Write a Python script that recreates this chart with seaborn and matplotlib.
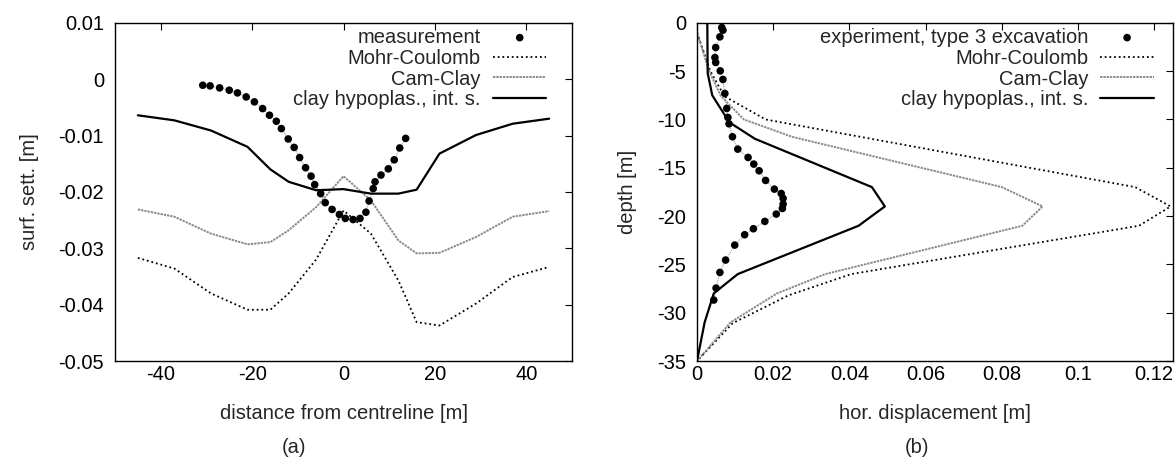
import matplotlib
matplotlib.use("Agg")
import matplotlib.pyplot as plt
import seaborn as sns
import numpy as np

# (a) surface settlement
dist_model = [-45, -37, -29, -21, -16, -12, -6, 0, 6, 12, 16, 21, 29, 37, 45]
sett_mc = [-0.0317, -0.0336, -0.0380, -0.0409, -0.0409, -0.0380, -0.0320, -0.0233,
           -0.0274, -0.0357, -0.0431, -0.0437, -0.0398, -0.0351, -0.0333]
sett_cc = [-0.0231, -0.0244, -0.0274, -0.0293, -0.0289, -0.0268, -0.0227, -0.0172,
           -0.0215, -0.0286, -0.0309, -0.0308, -0.0280, -0.0244, -0.0234]
sett_hypo = [-0.0064, -0.0073, -0.0091, -0.0120, -0.0160, -0.0182, -0.0197, -0.0195,
             -0.0203, -0.0203, -0.0196, -0.0132, -0.0099, -0.0079, -0.0070]
dist_meas = [-30.8, -29.2, -27.1, -25.0, -23.2, -21.3, -19.5, -17.7, -16.2, -14.7,
             -13.6, -12.1, -10.8, -9.6, -8.3, -7.1, -6.3, -5.0, -4.0, -2.5, -0.9,
             0.4, 2.1, 3.6, 4.9, 5.6, 6.5, 6.9, 8.2, 9.8, 11.1, 12.3, 13.6]
sett_meas = [-0.00107, -0.00118, -0.00154, -0.00195, -0.00243, -0.00314, -0.00402,
             -0.00521, -0.00639, -0.00746, -0.00876, -0.0106, -0.0121, -0.0139,
             -0.0157, -0.0172, -0.0187, -0.0203, -0.0219, -0.0231, -0.0240, -0.0247,
             -0.0249, -0.0247, -0.0236, -0.0216, -0.0194, -0.0182, -0.0170, -0.0159,
             -0.0143, -0.0122, -0.0105]

# (b) horizontal displacement vs depth
depth_mc = [-1, -5, -7.6, -10, -17, -19, -21, -26, -28.2, -31.1, -35]
disp_mc = [0, 0.0035, 0.0072, 0.018, 0.115, 0.1243, 0.116, 0.0405, 0.024, 0.0093, 0]
depth_cc = [-1, -5, -7.6, -10, -11.8, -17, -19, -21, -26, -28, -31, -35]
disp_cc = [0, 0.0032, 0.0063, 0.0123, 0.025, 0.080, 0.0907, 0.0854, 0.0337, 0.021, 0.0088, 0]
depth_hypo = [0, -5.2, -7.5, -10.3, -12, -17, -19, -21, -26, -28, -31, -35]
disp_hypo = [0.0027, 0.0028, 0.004, 0.0085, 0.0152, 0.0459, 0.0493, 0.0424, 0.0107, 0.0044, 0.002, 0]
depth_exp = [-0.48, -0.76, -1.45, -2.55, -3.59, -4.10, -4.97, -5.86, -7.31, -8.86,
             -9.79, -10.45, -11.79, -13.07, -13.93, -14.62, -15.31, -16.31, -17.21,
             -17.66, -18.17, -18.76, -19.21, -19.79, -20.55, -21.31, -21.93, -23.0,
             -24.55, -25.83, -27.45, -28.69]
disp_exp = [0.0065, 0.0068, 0.0060, 0.0049, 0.0047, 0.0049, 0.0061, 0.0068, 0.0073,
            0.0078, 0.0081, 0.0084, 0.0093, 0.0107, 0.0134, 0.0149, 0.0163, 0.0180,
            0.0203, 0.0221, 0.0226, 0.0226, 0.0224, 0.0208, 0.0178, 0.0148, 0.0125,
            0.0099, 0.0075, 0.0060, 0.0050, 0.0044]

a_yticks = [0.01, 0, -0.01, -0.02, -0.03, -0.04, -0.05]
a_yticklabels = ["0.01", "0", "-0.01", "-0.02", "-0.03", "-0.04", "-0.05"]
a_xticks = [-40, -20, 0, 20, 40]
b_xticks = [0, 0.02, 0.04, 0.06, 0.08, 0.1, 0.12]
b_xticklabels = ["0", "0.02", "0.04", "0.06", "0.08", "0.1", "0.12"]
b_yticks = [0, -5, -10, -15, -20, -25, -30, -35]

sns.set_style("white")
plt.rcParams['font.family'] = ['Liberation Sans', 'DejaVu Sans']
plt.rcParams['axes.unicode_minus'] = False

fig = plt.figure(figsize=(11.76, 4.57), dpi=100)
ax1 = fig.add_axes([0.0978, 0.210, 0.3886, 0.740])
ax2 = fig.add_axes([0.5927, 0.210, 0.405, 0.740])

mc_style = dict(color="black", linewidth=1.3, linestyle=(0, (1, 1.6)))
cc_style = dict(color="#8a8a8a", linewidth=1.4, linestyle=(0, (1.2, 0.5)))
hypo_style = dict(color="black", linewidth=1.6)
fs = 14.5

# --- (a)
sns.lineplot(x=dist_meas, y=sett_meas, sort=False, estimator=None, ax=ax1,
             color="#999999", linewidth=0.8, linestyle=(0, (1, 1)))
sns.scatterplot(x=dist_meas, y=sett_meas, ax=ax1, color="black", s=30,
                edgecolor="none", label="measurement", zorder=5)
sns.lineplot(x=dist_model, y=sett_mc, sort=False, estimator=None, ax=ax1,
             label="Mohr-Coulomb", **mc_style)
sns.lineplot(x=dist_model, y=sett_cc, sort=False, estimator=None, ax=ax1,
             label="Cam-Clay", **cc_style)
sns.lineplot(x=dist_model, y=sett_hypo, sort=False, estimator=None, ax=ax1,
             label="clay hypoplas., int. s.", **hypo_style)
ax1.set_xlim(-50, 50)
ax1.set_ylim(-0.05, 0.01)
ax1.set_xticks(a_xticks)
ax1.set_yticks(a_yticks)
ax1.set_yticklabels(a_yticklabels)
ax1.set_xlabel("distance from centreline [m]", fontsize=fs, labelpad=14)
ax1.set_ylabel("surf. sett. [m]", fontsize=fs, labelpad=14)

# --- (b)
sns.lineplot(x=disp_exp, y=depth_exp, sort=False, estimator=None, ax=ax2,
             color="#999999", linewidth=0.8, linestyle=(0, (1, 1)))
sns.scatterplot(x=disp_exp, y=depth_exp, ax=ax2, color="black", s=30,
                edgecolor="none", label="experiment, type 3 excavation", zorder=5)
sns.lineplot(x=disp_mc, y=depth_mc, sort=False, estimator=None, ax=ax2,
             label="Mohr-Coulomb", **mc_style)
sns.lineplot(x=disp_cc, y=depth_cc, sort=False, estimator=None, ax=ax2,
             label="Cam-Clay", **cc_style)
sns.lineplot(x=disp_hypo, y=depth_hypo, sort=False, estimator=None, ax=ax2,
             label="clay hypoplas., int. s.", **hypo_style)
ax2.set_xlim(0, 0.125)
ax2.set_ylim(-35, 0)
ax2.set_xticks(b_xticks)
ax2.set_xticklabels(b_xticklabels)
ax2.set_yticks(b_yticks)
ax2.set_xlabel("hor. displacement [m]", fontsize=fs, labelpad=14)
ax2.set_ylabel("depth [m]", fontsize=fs, labelpad=14)

legend_anchor = {ax1: (0.944, 0.985), ax2: (0.959, 0.985)}
for ax in (ax1, ax2):
    for sp in ax.spines.values():
        sp.set_visible(True)
        sp.set_color("black")
        sp.set_linewidth(1.0)
    ax.tick_params(direction="in", length=5, width=0.8, top=True, right=True,
                   labelsize=fs, colors="black")
    ax.tick_params(axis="x", pad=3)
    ax.tick_params(axis="y", pad=8)
    ax.legend(loc="upper right", bbox_to_anchor=legend_anchor[ax], frameon=False,
              markerfirst=False, fontsize=fs, handlelength=2.65, handletextpad=0.6,
              labelspacing=0.09, borderaxespad=0, borderpad=0, scatterpoints=1)

fig.text(0.25, 0.02, "(a)", fontsize=fs, ha="center", va="center")
fig.text(0.78, 0.02, "(b)", fontsize=fs, ha="center", va="center")

fig.savefig("out.png", dpi=100)
